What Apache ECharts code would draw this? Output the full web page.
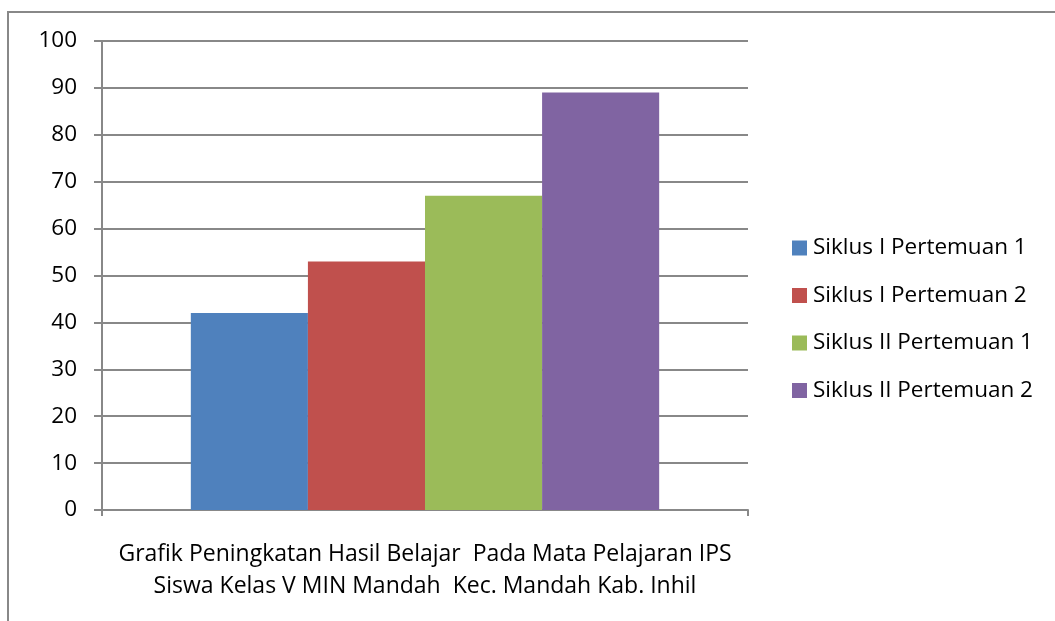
<!DOCTYPE html>
<html>
<head>
<meta charset="utf-8">
<script src="https://cdn.jsdelivr.net/npm/echarts@6/dist/echarts.min.js"></script>
<style>
  html, body { margin: 0; padding: 0; background: #fff; }
  #chart { width: 1055px; height: 621px; }
</style>
</head>
<body>
<div id="chart"></div>
<script>
var categories = ['Grafik Peningkatan Hasil Belajar  Pada Mata Pelajaran IPS\nSiswa Kelas V MIN Mandah  Kec. Mandah Kab. Inhil'];
var seriesNames = ['Siklus I Pertemuan 1', 'Siklus I Pertemuan 2', 'Siklus II Pertemuan 1', 'Siklus II Pertemuan 2'];
var seriesValues = [[42], [53], [67], [89]];
var colors = ['#4f81bd', '#c0504d', '#9bbb59', '#8064a2'];

var font = '"Open Sans", "Noto Sans", sans-serif';
var lineColor = '#888888';

var chart = echarts.init(document.getElementById('chart'), null, { renderer: 'canvas' });

var option = {
  animation: false,
  color: colors,
  textStyle: { fontFamily: font, color: '#000' },
  graphic: [
    {
      type: 'rect',
      shape: { x: 8, y: 12, width: 1200, height: 800 },
      style: { fill: 'none', stroke: lineColor, lineWidth: 2 },
      silent: true
    }
  ],
  grid: { left: 102, right: 307, top: 41, bottom: 111 },
  legend: {
    orient: 'vertical',
    left: 792,
    top: 235,
    padding: 0,
    icon: 'rect',
    itemWidth: 15,
    itemHeight: 15,
    itemGap: 21.5,
    textStyle: { fontFamily: font, fontSize: 22.5, color: '#000', padding: [0, 0, 0, 1], lineHeight: 26 },
    data: seriesNames
  },
  xAxis: {
    type: 'category',
    data: categories,
    axisLine: { lineStyle: { color: lineColor, width: 2 } },
    axisTick: { show: true, length: 6, lineStyle: { color: lineColor, width: 2 } },
    axisLabel: { fontFamily: font, fontSize: 23, color: '#000', lineHeight: 32, margin: 28 }
  },
  yAxis: {
    type: 'value',
    min: 0,
    max: 100,
    interval: 10,
    axisLine: { show: true, lineStyle: { color: lineColor, width: 2 } },
    axisTick: { show: true, length: 8, lineStyle: { color: lineColor, width: 2 } },
    axisLabel: { fontFamily: font, fontSize: 22.5, color: '#000', margin: 25 },
    splitLine: { lineStyle: { color: lineColor, width: 2 } }
  },
  series: seriesNames.map(function (name, i) {
    return {
      name: name,
      type: 'bar',
      data: seriesValues[i],
      barGap: '0%',
      barCategoryGap: '27.5%'
    };
  })
};

chart.setOption(option);
</script>
</body>
</html>
